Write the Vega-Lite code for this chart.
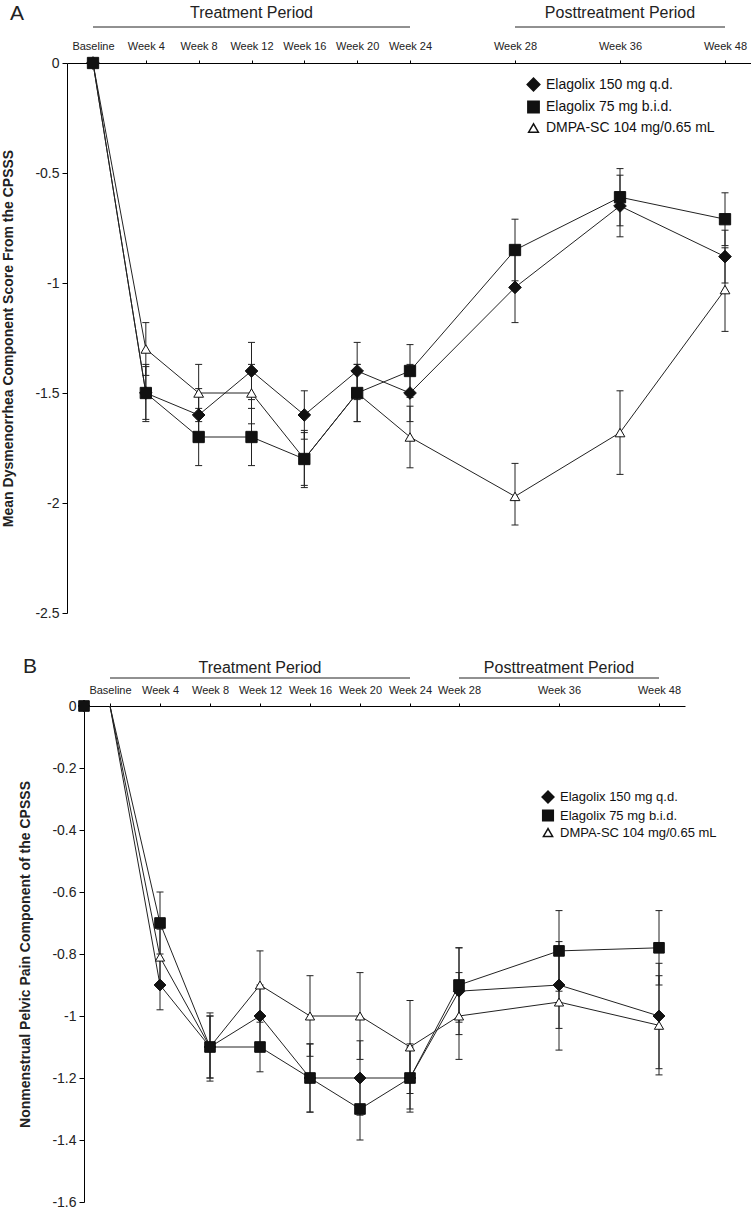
{
  "$schema": "https://vega.github.io/schema/vega-lite/v6.json",
  "padding": {"left": 1, "top": 3, "right": 0, "bottom": 0},
  "background": "white",
  "bounds": "flush",
  "spacing": 93,
  "config": {
    "font": "Liberation Sans",
    "view": {"stroke": null},
    "axis": {"domainColor": "#000", "tickColor": "#000", "labelColor": "#222", "titleColor": "#222", "labelFont": "Liberation Sans", "titleFont": "Liberation Sans", "grid": false},
    "legend": {"labelFont": "Liberation Sans", "labelColor": "#111", "labelLimit": 0}
  },
  "datasets": {
    "A": [
      {"group": "DMPA-SC 104 mg/0.65 mL", "week": 0, "mean": 0, "lo": null, "hi": null},
      {"group": "DMPA-SC 104 mg/0.65 mL", "week": 4, "mean": -1.3, "lo": -1.42, "hi": -1.18},
      {"group": "DMPA-SC 104 mg/0.65 mL", "week": 8, "mean": -1.5, "lo": -1.63, "hi": -1.37},
      {"group": "DMPA-SC 104 mg/0.65 mL", "week": 12, "mean": -1.5, "lo": -1.64, "hi": -1.37},
      {"group": "DMPA-SC 104 mg/0.65 mL", "week": 16, "mean": -1.8, "lo": -1.92, "hi": -1.68},
      {"group": "DMPA-SC 104 mg/0.65 mL", "week": 20, "mean": -1.5, "lo": -1.63, "hi": -1.37},
      {"group": "DMPA-SC 104 mg/0.65 mL", "week": 24, "mean": -1.7, "lo": -1.84, "hi": -1.56},
      {"group": "DMPA-SC 104 mg/0.65 mL", "week": 28, "mean": -1.97, "lo": -2.1, "hi": -1.82},
      {"group": "DMPA-SC 104 mg/0.65 mL", "week": 36, "mean": -1.68, "lo": -1.87, "hi": -1.49},
      {"group": "DMPA-SC 104 mg/0.65 mL", "week": 48, "mean": -1.03, "lo": -1.22, "hi": -0.84},
      {"group": "Elagolix 150 mg q.d.", "week": 0, "mean": 0, "lo": null, "hi": null},
      {"group": "Elagolix 150 mg q.d.", "week": 4, "mean": -1.5, "lo": -1.62, "hi": -1.38},
      {"group": "Elagolix 150 mg q.d.", "week": 8, "mean": -1.6, "lo": -1.72, "hi": -1.48},
      {"group": "Elagolix 150 mg q.d.", "week": 12, "mean": -1.4, "lo": -1.53, "hi": -1.27},
      {"group": "Elagolix 150 mg q.d.", "week": 16, "mean": -1.6, "lo": -1.71, "hi": -1.49},
      {"group": "Elagolix 150 mg q.d.", "week": 20, "mean": -1.4, "lo": -1.53, "hi": -1.27},
      {"group": "Elagolix 150 mg q.d.", "week": 24, "mean": -1.5, "lo": -1.63, "hi": -1.37},
      {"group": "Elagolix 150 mg q.d.", "week": 28, "mean": -1.02, "lo": -1.18, "hi": -0.86},
      {"group": "Elagolix 150 mg q.d.", "week": 36, "mean": -0.65, "lo": -0.79, "hi": -0.51},
      {"group": "Elagolix 150 mg q.d.", "week": 48, "mean": -0.88, "lo": -1.0, "hi": -0.76},
      {"group": "Elagolix 75 mg b.i.d.", "week": 0, "mean": 0, "lo": null, "hi": null},
      {"group": "Elagolix 75 mg b.i.d.", "week": 4, "mean": -1.5, "lo": -1.63, "hi": -1.37},
      {"group": "Elagolix 75 mg b.i.d.", "week": 8, "mean": -1.7, "lo": -1.83, "hi": -1.57},
      {"group": "Elagolix 75 mg b.i.d.", "week": 12, "mean": -1.7, "lo": -1.83, "hi": -1.57},
      {"group": "Elagolix 75 mg b.i.d.", "week": 16, "mean": -1.8, "lo": -1.93, "hi": -1.67},
      {"group": "Elagolix 75 mg b.i.d.", "week": 20, "mean": -1.5, "lo": -1.63, "hi": -1.37},
      {"group": "Elagolix 75 mg b.i.d.", "week": 24, "mean": -1.4, "lo": -1.52, "hi": -1.28},
      {"group": "Elagolix 75 mg b.i.d.", "week": 28, "mean": -0.85, "lo": -0.99, "hi": -0.71},
      {"group": "Elagolix 75 mg b.i.d.", "week": 36, "mean": -0.61, "lo": -0.74, "hi": -0.48},
      {"group": "Elagolix 75 mg b.i.d.", "week": 48, "mean": -0.71, "lo": -0.83, "hi": -0.59}
    ],
    "B": [
      {"group": "DMPA-SC 104 mg/0.65 mL", "week": 0, "mean": 0, "lo": null, "hi": null},
      {"group": "DMPA-SC 104 mg/0.65 mL", "week": 4, "mean": -0.81, "lo": -0.9, "hi": -0.72},
      {"group": "DMPA-SC 104 mg/0.65 mL", "week": 8, "mean": -1.1, "lo": -1.2, "hi": -1.0},
      {"group": "DMPA-SC 104 mg/0.65 mL", "week": 12, "mean": -0.9, "lo": -1.01, "hi": -0.79},
      {"group": "DMPA-SC 104 mg/0.65 mL", "week": 16, "mean": -1.0, "lo": -1.13, "hi": -0.87},
      {"group": "DMPA-SC 104 mg/0.65 mL", "week": 20, "mean": -1.0, "lo": -1.14, "hi": -0.86},
      {"group": "DMPA-SC 104 mg/0.65 mL", "week": 24, "mean": -1.1, "lo": -1.25, "hi": -0.95},
      {"group": "DMPA-SC 104 mg/0.65 mL", "week": 28, "mean": -1.0, "lo": -1.14, "hi": -0.86},
      {"group": "DMPA-SC 104 mg/0.65 mL", "week": 36, "mean": -0.955, "lo": -1.11, "hi": -0.8},
      {"group": "DMPA-SC 104 mg/0.65 mL", "week": 48, "mean": -1.03, "lo": -1.19, "hi": -0.87},
      {"group": "Elagolix 150 mg q.d.", "week": 0, "mean": 0, "lo": null, "hi": null},
      {"group": "Elagolix 150 mg q.d.", "week": 4, "mean": -0.9, "lo": -0.98, "hi": -0.82},
      {"group": "Elagolix 150 mg q.d.", "week": 8, "mean": -1.1, "lo": -1.2, "hi": -1.0},
      {"group": "Elagolix 150 mg q.d.", "week": 12, "mean": -1.0, "lo": -1.1, "hi": -0.9},
      {"group": "Elagolix 150 mg q.d.", "week": 16, "mean": -1.2, "lo": -1.31, "hi": -1.09},
      {"group": "Elagolix 150 mg q.d.", "week": 20, "mean": -1.2, "lo": -1.32, "hi": -1.08},
      {"group": "Elagolix 150 mg q.d.", "week": 24, "mean": -1.2, "lo": -1.3, "hi": -1.1},
      {"group": "Elagolix 150 mg q.d.", "week": 28, "mean": -0.92, "lo": -1.06, "hi": -0.78},
      {"group": "Elagolix 150 mg q.d.", "week": 36, "mean": -0.9, "lo": -1.04, "hi": -0.76},
      {"group": "Elagolix 150 mg q.d.", "week": 48, "mean": -1.0, "lo": -1.17, "hi": -0.83},
      {"group": "Elagolix 75 mg b.i.d.", "week": 0, "mean": 0, "lo": null, "hi": null},
      {"group": "Elagolix 75 mg b.i.d.", "week": 4, "mean": -0.7, "lo": -0.8, "hi": -0.6},
      {"group": "Elagolix 75 mg b.i.d.", "week": 8, "mean": -1.1, "lo": -1.21, "hi": -0.99},
      {"group": "Elagolix 75 mg b.i.d.", "week": 12, "mean": -1.1, "lo": -1.18, "hi": -1.02},
      {"group": "Elagolix 75 mg b.i.d.", "week": 16, "mean": -1.2, "lo": -1.31, "hi": -1.09},
      {"group": "Elagolix 75 mg b.i.d.", "week": 20, "mean": -1.3, "lo": -1.4, "hi": -1.2},
      {"group": "Elagolix 75 mg b.i.d.", "week": 24, "mean": -1.2, "lo": -1.31, "hi": -1.09},
      {"group": "Elagolix 75 mg b.i.d.", "week": 28, "mean": -0.9, "lo": -1.02, "hi": -0.78},
      {"group": "Elagolix 75 mg b.i.d.", "week": 36, "mean": -0.79, "lo": -0.92, "hi": -0.66},
      {"group": "Elagolix 75 mg b.i.d.", "week": 48, "mean": -0.78, "lo": -0.9, "hi": -0.66}
    ],
    "periods": [
      {"label": "Treatment Period", "start": 0, "end": 24, "mid": 12},
      {"label": "Posttreatment Period", "start": 28, "end": 48, "mid": 36}
    ]
  },
  "resolve": {
    "scale": {"x": "independent", "y": "independent", "shape": "independent", "fill": "independent", "size": "independent"},
    "legend": {"shape": "independent", "fill": "independent", "size": "independent"}
  },
  "vconcat": [
    {
      "width": 684,
      "height": 550,
      "title": {"text": "A", "anchor": "start", "frame": "bounds", "fontSize": 21, "fontWeight": "normal", "color": "#222", "font": "Liberation Sans", "offset": -19, "dx": 8},
      "layer": [
        {
          "data": {"name": "periods"},
          "mark": {"type": "rule", "stroke": "#222", "strokeWidth": 1},
          "encoding": {
            "x": {"field": "start", "type": "quantitative", "scale": {"domain": [-2, 0, 24, 28, 36, 48, 51], "range": [0, 26, 343, 448, 553, 658, 684], "nice": false, "zero": false},
              "axis": {"orient": "top", "values": [0, 4, 8, 12, 16, 20, 24, 28, 36, 48], "labelExpr": "datum.value == 0 ? 'Baseline' : 'Week ' + datum.value", "tickSize": 3, "labelPadding": 9, "labelFontSize": 11, "title": null, "labelOverlap": false, "labelFlush": false, "labelBound": false}},
            "x2": {"field": "end"},
            "y": {"datum": 0.1636, "type": "quantitative", "scale": {"domain": [-2.5, 0], "nice": false, "zero": false},
              "axis": {"values": [0, -0.5, -1, -1.5, -2, -2.5], "labelExpr": "'' + datum.value", "tickSize": 5, "labelPadding": 3, "labelFontSize": 14, "title": "Mean Dysmenorrhea Component Score From the CPSSS", "titleFontSize": 14, "titleFontWeight": "bold", "titlePadding": 19}}
          }
        },
        {
          "data": {"name": "periods"},
          "mark": {"type": "text", "fontSize": 16, "color": "#222", "baseline": "alphabetic", "align": "center"},
          "encoding": {
            "x": {"field": "mid", "type": "quantitative"},
            "y": {"datum": 0.2045, "type": "quantitative"},
            "text": {"field": "label"}
          }
        },
        {
          "mark": {"type": "rule", "stroke": "#aaa", "strokeWidth": 1, "strokeDash": [4, 3]},
          "encoding": {
            "x": {"datum": 24, "type": "quantitative"},
            "y": {"datum": 0, "type": "quantitative"},
            "y2": {"datum": -2.54}
          }
        },
        {
          "data": {"name": "A"},
          "transform": [{"filter": "datum.week > 0"}],
          "mark": {"type": "rule", "stroke": "#222", "strokeWidth": 1},
          "encoding": {
            "x": {"field": "week", "type": "quantitative"},
            "y": {"field": "lo", "type": "quantitative"},
            "y2": {"field": "hi"}
          }
        },
        {
          "data": {"name": "A"},
          "transform": [{"filter": "datum.week > 0"}, {"fold": ["lo", "hi"], "as": ["bound", "val"]}],
          "mark": {"type": "point", "shape": "M-1,0L1,0", "size": 49, "stroke": "#222", "strokeWidth": 1, "filled": false, "opacity": 1},
          "encoding": {
            "x": {"field": "week", "type": "quantitative"},
            "y": {"field": "val", "type": "quantitative"}
          }
        },
        {
          "data": {"name": "A"},
          "mark": {"type": "line", "stroke": "#222", "strokeWidth": 1},
          "encoding": {
            "x": {"field": "week", "type": "quantitative"},
            "y": {"field": "mean", "type": "quantitative"},
            "detail": {"field": "group"}
          }
        },
        {
          "data": {"name": "A"},
          "mark": {"type": "point", "filled": true, "stroke": "#111", "strokeWidth": 1, "opacity": 1},
          "encoding": {
            "x": {"field": "week", "type": "quantitative"},
            "y": {"field": "mean", "type": "quantitative"},
            "shape": {"field": "group", "type": "nominal", "scale": {"domain": ["Elagolix 150 mg q.d.", "Elagolix 75 mg b.i.d.", "DMPA-SC 104 mg/0.65 mL"], "range": ["diamond", "square", "triangle-up"]},
              "legend": {"orient": "none", "legendX": 459, "legendY": 14, "title": null, "labelFontSize": 14, "labelLimit": 0, "rowPadding": 4, "padding": 0, "labelOffset": 5, "encode": {"symbols": {"update": {"stroke": {"value": "#111"}, "strokeWidth": {"value": 1}}}}}},
            "fill": {"field": "group", "type": "nominal", "scale": {"domain": ["Elagolix 150 mg q.d.", "Elagolix 75 mg b.i.d.", "DMPA-SC 104 mg/0.65 mL"], "range": ["#111", "#111", "#fff"]},
              "legend": {"orient": "none", "legendX": 459, "legendY": 14, "title": null, "labelFontSize": 14, "labelLimit": 0, "rowPadding": 4, "padding": 0, "labelOffset": 5, "encode": {"symbols": {"update": {"stroke": {"value": "#111"}, "strokeWidth": {"value": 1}}}}}},
            "size": {"field": "group", "type": "nominal", "scale": {"domain": ["Elagolix 150 mg q.d.", "Elagolix 75 mg b.i.d.", "DMPA-SC 104 mg/0.65 mL"], "range": [160, 95, 105]},
              "legend": {"orient": "none", "legendX": 459, "legendY": 14, "title": null, "labelFontSize": 14, "labelLimit": 0, "rowPadding": 4, "padding": 0, "labelOffset": 5, "encode": {"symbols": {"update": {"stroke": {"value": "#111"}, "strokeWidth": {"value": 1}}}}}}
          }
        }
      ]
    },
    {
      "width": 684,
      "height": 496,
      "title": {"text": "B", "anchor": "start", "frame": "bounds", "fontSize": 21, "fontWeight": "normal", "color": "#222", "font": "Liberation Sans", "offset": -17, "dx": 4},
      "layer": [
        {
          "data": {"name": "periods"},
          "mark": {"type": "rule", "stroke": "#222", "strokeWidth": 1},
          "encoding": {
            "x": {"field": "start", "type": "quantitative", "scale": {"domain": [-2.08, 0, 24, 28, 36, 48, 51.12], "range": [17, 43, 343, 392, 492, 592, 618], "nice": false, "zero": false},
              "axis": {"orient": "top", "values": [0, 4, 8, 12, 16, 20, 24, 28, 36, 48], "labelExpr": "datum.value == 0 ? 'Baseline' : 'Week ' + datum.value", "tickSize": 3, "labelPadding": 8, "labelFontSize": 11, "title": null, "labelOverlap": false, "labelFlush": false, "labelBound": false}},
            "x2": {"field": "end"},
            "y": {"datum": 0.0903, "type": "quantitative", "scale": {"domain": [-1.6, 0], "nice": false, "zero": false},
              "axis": {"values": [0, -0.2, -0.4, -0.6, -0.8, -1, -1.2, -1.4, -1.6], "labelExpr": "'' + datum.value", "tickSize": 5, "labelPadding": 3, "labelFontSize": 14, "offset": -17, "title": "Nonmenstrual Pelvic Pain Component of the CPSSS", "titleFontSize": 14, "titleFontWeight": "bold", "titlePadding": 19}}
          }
        },
        {
          "data": {"name": "periods"},
          "mark": {"type": "text", "fontSize": 16, "color": "#222", "baseline": "alphabetic", "align": "center"},
          "encoding": {
            "x": {"field": "mid", "type": "quantitative"},
            "y": {"datum": 0.106, "type": "quantitative"},
            "text": {"field": "label"}
          }
        },
        {
          "mark": {"type": "rule", "stroke": "#aaa", "strokeWidth": 1, "strokeDash": [4, 3]},
          "encoding": {
            "x": {"datum": 24, "type": "quantitative"},
            "y": {"datum": 0, "type": "quantitative"},
            "y2": {"datum": -1.6}
          }
        },
        {
          "data": {"name": "B"},
          "transform": [{"filter": "datum.week > 0"}],
          "mark": {"type": "rule", "stroke": "#222", "strokeWidth": 1},
          "encoding": {
            "x": {"field": "week", "type": "quantitative"},
            "y": {"field": "lo", "type": "quantitative"},
            "y2": {"field": "hi"}
          }
        },
        {
          "data": {"name": "B"},
          "transform": [{"filter": "datum.week > 0"}, {"fold": ["lo", "hi"], "as": ["bound", "val"]}],
          "mark": {"type": "point", "shape": "M-1,0L1,0", "size": 49, "stroke": "#222", "strokeWidth": 1, "filled": false, "opacity": 1},
          "encoding": {
            "x": {"field": "week", "type": "quantitative"},
            "y": {"field": "val", "type": "quantitative"}
          }
        },
        {
          "data": {"name": "B"},
          "mark": {"type": "line", "stroke": "#222", "strokeWidth": 1},
          "encoding": {
            "x": {"field": "week", "type": "quantitative"},
            "y": {"field": "mean", "type": "quantitative"},
            "detail": {"field": "group"}
          }
        },
        {
          "data": {"name": "B"},
          "transform": [{"filter": "datum.week > 0"}],
          "mark": {"type": "point", "filled": true, "stroke": "#111", "strokeWidth": 1, "opacity": 1},
          "encoding": {
            "x": {"field": "week", "type": "quantitative"},
            "y": {"field": "mean", "type": "quantitative"},
            "shape": {"field": "group", "type": "nominal", "scale": {"domain": ["Elagolix 150 mg q.d.", "Elagolix 75 mg b.i.d.", "DMPA-SC 104 mg/0.65 mL"], "range": ["diamond", "square", "triangle-up"]},
              "legend": {"orient": "none", "legendX": 474, "legendY": 84, "title": null, "labelFontSize": 13, "labelLimit": 0, "rowPadding": 1, "padding": 0, "labelOffset": 5, "encode": {"symbols": {"update": {"stroke": {"value": "#111"}, "strokeWidth": {"value": 1}}}}}},
            "fill": {"field": "group", "type": "nominal", "scale": {"domain": ["Elagolix 150 mg q.d.", "Elagolix 75 mg b.i.d.", "DMPA-SC 104 mg/0.65 mL"], "range": ["#111", "#111", "#fff"]},
              "legend": {"orient": "none", "legendX": 474, "legendY": 84, "title": null, "labelFontSize": 13, "labelLimit": 0, "rowPadding": 1, "padding": 0, "labelOffset": 5, "encode": {"symbols": {"update": {"stroke": {"value": "#111"}, "strokeWidth": {"value": 1}}}}}},
            "size": {"field": "group", "type": "nominal", "scale": {"domain": ["Elagolix 150 mg q.d.", "Elagolix 75 mg b.i.d.", "DMPA-SC 104 mg/0.65 mL"], "range": [140, 85, 95]},
              "legend": {"orient": "none", "legendX": 474, "legendY": 84, "title": null, "labelFontSize": 13, "labelLimit": 0, "rowPadding": 1, "padding": 0, "labelOffset": 5, "encode": {"symbols": {"update": {"stroke": {"value": "#111"}, "strokeWidth": {"value": 1}}}}}}
          }
        },
        {
          "data": {"name": "B"},
          "transform": [{"filter": "datum.week == 0"}],
          "mark": {"type": "point", "filled": true, "stroke": "#111", "strokeWidth": 1, "opacity": 1, "xOffset": -26},
          "encoding": {
            "x": {"field": "week", "type": "quantitative"},
            "y": {"field": "mean", "type": "quantitative"},
            "shape": {"field": "group", "type": "nominal"},
            "fill": {"field": "group", "type": "nominal"},
            "size": {"field": "group", "type": "nominal"}
          }
        }
      ]
    }
  ]
}
